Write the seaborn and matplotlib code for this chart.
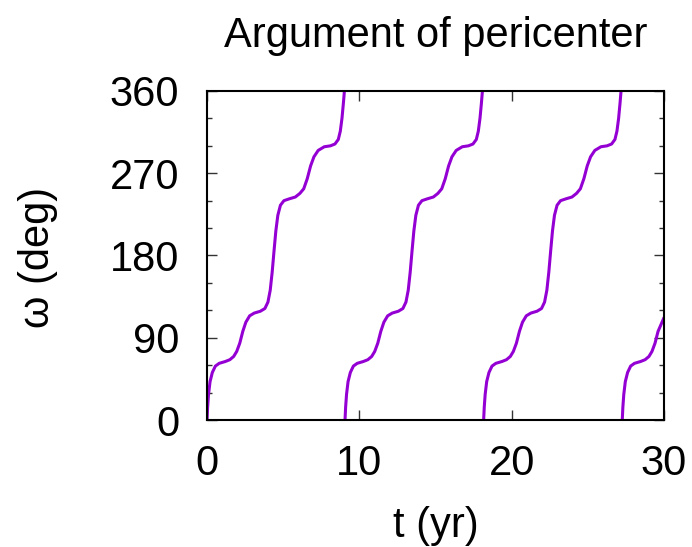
import numpy as np
import pandas as pd
import matplotlib
matplotlib.use("Agg")
import matplotlib.pyplot as plt
import seaborn as sns
from matplotlib.ticker import MultipleLocator

# ---- data (t in yr, omega in deg) ----
seg1_t = [0.00, 0.04, 0.10, 0.20, 0.35, 0.55, 0.80, 1.20, 1.50, 1.75, 1.95, 2.15, 2.35, 2.55,
          2.80, 3.10, 3.50, 3.80, 4.00, 4.15, 4.28, 4.40, 4.52, 4.65, 4.82, 5.05, 5.40, 5.80,
          6.10, 6.35, 6.58, 6.80, 7.02, 7.30, 7.70, 8.10, 8.40, 8.62, 8.75, 8.86, 8.95, 9.02]
seg1_w = [0, 14, 28, 42, 52, 59, 62, 64, 66, 69.5, 75, 84, 97, 107,
          114, 117, 119, 122, 129, 142, 162, 185, 207, 224, 235, 240, 242, 244,
          248, 253, 264, 278, 288, 295, 299, 300, 302, 307, 316, 330, 346, 360]

seg2_t = [9.06, 9.10, 9.16, 9.26, 9.41, 9.61, 9.86, 10.26, 10.56, 10.81, 11.01, 11.21, 11.41, 11.61,
          11.86, 12.16, 12.56, 12.86, 13.06, 13.21, 13.34, 13.46, 13.58, 13.71, 13.88, 14.11, 14.46, 14.86,
          15.16, 15.41, 15.64, 15.86, 16.08, 16.36, 16.76, 17.16, 17.46, 17.68, 17.81, 17.92, 18.01, 18.08]
seg2_w = [0, 14, 28, 42, 52, 59, 62, 64, 66, 69.5, 75, 84, 97, 107,
          114, 117, 119, 122, 129, 142, 162, 185, 207, 224, 235, 240, 242, 244,
          248, 253, 264, 278, 288, 295, 299, 300, 302, 307, 316, 330, 346, 360]

seg3_t = [18.16, 18.20, 18.26, 18.36, 18.51, 18.71, 18.96, 19.36, 19.66, 19.91, 20.11, 20.31, 20.51, 20.71,
          20.96, 21.26, 21.66, 21.96, 22.16, 22.31, 22.44, 22.56, 22.68, 22.81, 22.98, 23.21, 23.56, 23.96,
          24.26, 24.51, 24.74, 24.96, 25.18, 25.46, 25.86, 26.26, 26.56, 26.78, 26.91, 27.02, 27.11, 27.18]
seg3_w = [0, 14, 28, 42, 52, 59, 62, 64, 66, 69.5, 75, 84, 97, 107,
          114, 117, 119, 122, 129, 142, 162, 185, 207, 224, 235, 240, 242, 244,
          248, 253, 264, 278, 288, 295, 299, 300, 302, 307, 316, 330, 346, 360]

seg4_t = [27.26, 27.30, 27.36, 27.46, 27.61, 27.81, 28.06, 28.46, 28.76, 29.01, 29.21, 29.41, 29.61, 30.00]
seg4_w = [0, 14, 28, 42, 52, 59, 62, 64, 66, 69.5, 75, 84, 97, 112]

x_ticks = [0, 10, 20, 30]
y_ticks = [0, 90, 180, 270, 360]

title = "Argument of pericenter"
xlabel = "t (yr)"
ylabel = "ω (deg)"

# ---- build table ----
frames = []
for i, (tt, ww) in enumerate([(seg1_t, seg1_w), (seg2_t, seg2_w), (seg3_t, seg3_w), (seg4_t, seg4_w)]):
    frames.append(pd.DataFrame({"t": tt, "omega": ww, "seg": i}))
df = pd.concat(frames, ignore_index=True)

sns.set_style("white")
plt.rcParams["font.family"] = ["Liberation Sans", "DejaVu Sans"]
plt.rcParams["text.color"] = "black"
plt.rcParams["axes.labelcolor"] = "black"
plt.rcParams["xtick.color"] = "black"
plt.rcParams["ytick.color"] = "black"
FS = 30

fig = plt.figure(figsize=(6.92, 5.47), dpi=100)
ax = fig.add_axes([207 / 692, 1 - 420 / 547, 457 / 692, 329 / 547])

sns.lineplot(data=df, x="t", y="omega", units="seg", estimator=None, sort=False,
             color="#9400D3", linewidth=2.2, ax=ax, legend=False)

ax.set_xlim(0, 30)
ax.set_ylim(0, 360)
ax.set_xticks(x_ticks)
ax.set_yticks(y_ticks)
ax.yaxis.set_minor_locator(MultipleLocator(30))

for s in ax.spines.values():
    s.set_visible(True)
    s.set_linewidth(1.5)
    s.set_color("black")

ax.tick_params(which="both", direction="in", top=True, right=True, bottom=True, left=True,
               color="#333333", width=1.0)
ax.tick_params(which="major", length=7, labelsize=FS, labelcolor="black")
ax.tick_params(which="minor", length=3.5)
ax.tick_params(axis="y", which="major", pad=20)
ax.tick_params(axis="x", which="major", pad=17)

ax.set_title(title, fontsize=FS, pad=32, color="black")
ax.set_xlabel(xlabel, fontsize=FS)
ax.set_ylabel(ylabel, fontsize=FS)
ax.xaxis.set_label_coords(0.5, -0.26)
ax.yaxis.set_label_coords(-0.325, 0.495)

fig.savefig("out.png", dpi=100)
